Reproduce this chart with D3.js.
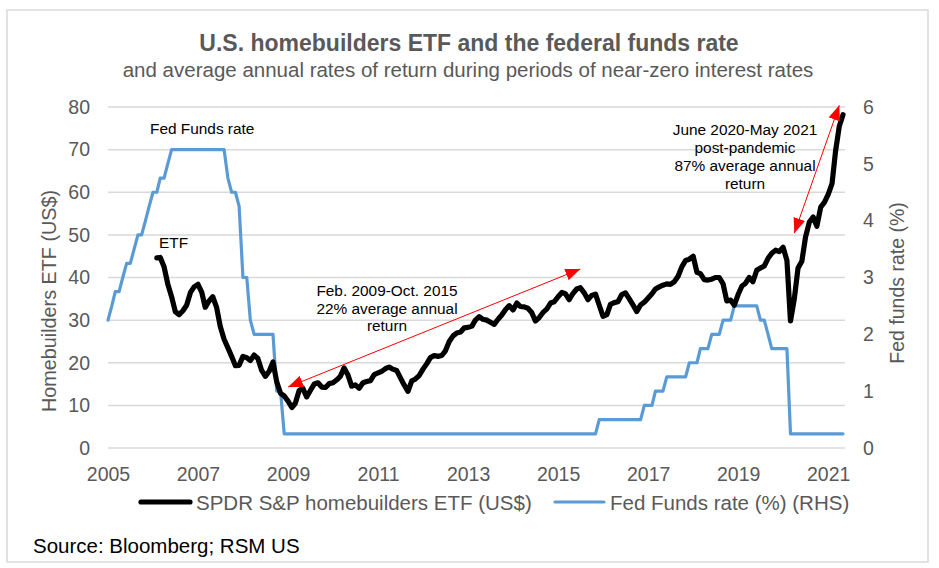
<!DOCTYPE html>
<html>
<head>
<meta charset="utf-8">
<script src="https://cdn.jsdelivr.net/npm/d3@7/dist/d3.min.js"></script>
<style>
  html, body { margin: 0; padding: 0; background: #fff; }
  svg { display: block; font-family: "Liberation Sans", Arial, sans-serif; }
</style>
</head>
<body>
<svg id="chart" width="939" height="568"></svg>
<script>
// ---------- DATA ----------
const titleText = "U.S. homebuilders ETF and the federal funds rate";
const subtitleText = "and average annual rates of return during periods of near-zero interest rates";
const sourceText = "Source: Bloomberg; RSM US";

const xTickYears = [2005, 2007, 2009, 2011, 2013, 2015, 2017, 2019, 2021];
const leftTicks = [0, 10, 20, 30, 40, 50, 60, 70, 80];
const rightTicks = [0, 1, 2, 3, 4, 5, 6];

// Monthly, starting February 2006 (US$)
const etfStart = [2006, 1];
const etfValues = [
  44.6, 44.7, 42.5, 38.5, 35.5, 32.0, 31.3, 32.2, 33.5, 36.5, 37.8,           // 2006 Feb-Dec
  38.4, 36.5, 33.0, 34.5, 35.5, 33.0, 28.5, 25.5, 23.5, 21.5, 19.3, 19.4,     // 2007
  21.5, 21.2, 20.5, 21.8, 21.0, 18.2, 16.8, 18.0, 20.2, 15.5, 12.8, 12.2,     // 2008
  11.0, 9.5, 10.5, 13.5, 14.0, 12.0, 13.5, 15.0, 15.3, 14.3, 14.2, 15.1,      // 2009
  15.3, 16.0, 16.8, 18.8, 17.2, 14.5, 14.8, 14.0, 15.3, 15.6, 15.8, 17.2,     // 2010
  17.6, 18.0, 18.6, 19.0, 18.5, 18.2, 16.5, 14.8, 13.3, 15.7, 16.2, 17.0,     // 2011
  18.5, 19.8, 21.2, 21.7, 21.5, 21.7, 22.8, 25.0, 26.3, 27.0, 27.2, 28.2,     // 2012
  28.3, 28.6, 30.0, 30.8, 30.2, 30.0, 29.5, 29.0, 30.2, 31.2, 32.5, 33.4,     // 2013
  32.4, 34.0, 33.2, 33.1, 32.8, 31.8, 29.8, 30.6, 31.8, 32.6, 34.0, 34.3,     // 2014
  35.5, 36.5, 36.2, 34.8, 36.2, 37.3, 37.6, 36.4, 34.8, 35.8, 36.1, 33.5,     // 2015
  30.9, 31.3, 33.7, 34.1, 34.3, 36.0, 36.4, 35.0, 33.5, 32.0, 33.6, 34.2,     // 2016
  35.2, 36.2, 37.3, 37.8, 38.2, 38.5, 38.4, 39.0, 40.3, 42.5, 44.0, 44.3,     // 2017
  45.0, 41.2, 40.9, 39.5, 39.4, 39.6, 40.0, 40.0, 38.5, 34.5, 34.7, 33.5,     // 2018
  36.0, 38.0, 38.6, 40.0, 39.0, 41.7, 42.2, 42.7, 44.5, 45.7, 46.4, 46.1,     // 2019
  47.1, 44.0, 29.8, 35.0, 42.2, 43.8, 49.5, 53.0, 54.2, 52.0, 56.5, 57.6,     // 2020
  59.5, 62.0, 69.5, 75.5, 78.2                                                // 2021 Jan-May
];

// Monthly upper bound of the fed funds target, starting January 2005 (%)
const fedStart = [2005, 0];
const fedValues = [
  2.25, 2.5, 2.75, 2.75, 3.0, 3.25, 3.25, 3.5, 3.75, 3.75, 4.0, 4.25,         // 2005
  4.5, 4.5, 4.75, 4.75, 5.0, 5.25, 5.25, 5.25, 5.25, 5.25, 5.25, 5.25,        // 2006
  5.25, 5.25, 5.25, 5.25, 5.25, 5.25, 5.25, 5.25, 4.75, 4.5, 4.5, 4.25,       // 2007
  3.0, 3.0, 2.25, 2.0, 2.0, 2.0, 2.0, 2.0, 2.0, 1.0, 1.0, 0.25,               // 2008
  0.25, 0.25, 0.25, 0.25, 0.25, 0.25, 0.25, 0.25, 0.25, 0.25, 0.25, 0.25,     // 2009
  0.25, 0.25, 0.25, 0.25, 0.25, 0.25, 0.25, 0.25, 0.25, 0.25, 0.25, 0.25,     // 2010
  0.25, 0.25, 0.25, 0.25, 0.25, 0.25, 0.25, 0.25, 0.25, 0.25, 0.25, 0.25,     // 2011
  0.25, 0.25, 0.25, 0.25, 0.25, 0.25, 0.25, 0.25, 0.25, 0.25, 0.25, 0.25,     // 2012
  0.25, 0.25, 0.25, 0.25, 0.25, 0.25, 0.25, 0.25, 0.25, 0.25, 0.25, 0.25,     // 2013
  0.25, 0.25, 0.25, 0.25, 0.25, 0.25, 0.25, 0.25, 0.25, 0.25, 0.25, 0.25,     // 2014
  0.25, 0.25, 0.25, 0.25, 0.25, 0.25, 0.25, 0.25, 0.25, 0.25, 0.25, 0.5,      // 2015
  0.5, 0.5, 0.5, 0.5, 0.5, 0.5, 0.5, 0.5, 0.5, 0.5, 0.5, 0.75,                // 2016
  0.75, 0.75, 1.0, 1.0, 1.0, 1.25, 1.25, 1.25, 1.25, 1.25, 1.25, 1.5,         // 2017
  1.5, 1.5, 1.75, 1.75, 1.75, 2.0, 2.0, 2.0, 2.25, 2.25, 2.25, 2.5,           // 2018
  2.5, 2.5, 2.5, 2.5, 2.5, 2.5, 2.25, 2.25, 2.0, 1.75, 1.75, 1.75,            // 2019
  1.75, 1.75, 0.25, 0.25, 0.25, 0.25, 0.25, 0.25, 0.25, 0.25, 0.25, 0.25,     // 2020
  0.25, 0.25, 0.25, 0.25, 0.25                                                // 2021 Jan-May
];

const seriesNames = ["SPDR S&P homebuilders ETF (US$)", "Fed Funds rate (%) (RHS)"];

// Annotations (date as [year, month], value on ETF axis)
const arrow1 = { from: [2009, 0, 14.3], to: [2015, 6, 42.0] };
const arrow2 = { from: [2020, 3, 50.4], to: [2021, 3, 80.4] };
const note1Lines = ["Feb. 2009-Oct. 2015", "22% average annual", "return"];
const note2Lines = ["June 2020-May 2021", "post-pandemic", "87% average annual", "return"];

// ---------- CHART ----------
const svg = d3.select("#chart");
const plot = { left: 108, right: 845, top: 107, bottom: 448 };
const gray = "#595959";
const blue = "#5B9BD5";
const FONT = "Liberation Sans, Arial, sans-serif";

const toDate = (y, m) => new Date(y, m, 1);
const etfData = etfValues.map((v, i) => ({ date: d3.timeMonth.offset(toDate(...etfStart), i), v }));
const fedData = fedValues.map((v, i) => ({ date: d3.timeMonth.offset(toDate(...fedStart), i), v }));

const x = d3.scaleTime()
  .domain([toDate(2005, 0), toDate(2021, 4)])
  .range([plot.left, 843]);
const yL = d3.scaleLinear().domain([0, 80]).range([plot.bottom, plot.top]);
const yR = d3.scaleLinear().domain([0, 6]).range([plot.bottom, plot.top]);

// border
svg.append("rect")
  .attr("x", 7).attr("y", 10).attr("width", 921).attr("height", 552)
  .attr("fill", "#fff").attr("stroke", "#d9d9d9").attr("stroke-width", 1.5);

// title
svg.append("text").attr("x", 469).attr("y", 51).attr("text-anchor", "middle")
  .attr("font-size", 23).attr("font-weight", "bold").attr("fill", gray).text(titleText);
svg.append("text").attr("x", 468).attr("y", 77).attr("text-anchor", "middle")
  .attr("font-size", 20.5).attr("fill", gray).text(subtitleText);

// gridlines
svg.append("g").selectAll("line").data(leftTicks).join("line")
  .attr("x1", plot.left).attr("x2", plot.right)
  .attr("y1", d => yL(d)).attr("y2", d => yL(d))
  .attr("stroke", "#d9d9d9").attr("stroke-width", 1.5);

// left axis
const gL = svg.append("g").attr("transform", `translate(${plot.left - 18},0)`)
  .call(d3.axisLeft(yL).tickValues(leftTicks).tickSize(0).tickPadding(0));
gL.select(".domain").remove();
gL.selectAll("text").attr("font-size", 19.5).attr("fill", gray).attr("font-family", FONT);

// right axis
const gR = svg.append("g").attr("transform", `translate(${plot.right + 18},0)`)
  .call(d3.axisRight(yR).tickValues(rightTicks).tickFormat(d3.format("d")).tickSize(0).tickPadding(0));
gR.select(".domain").remove();
gR.selectAll("text").attr("font-size", 19.5).attr("fill", gray).attr("font-family", FONT);

// x axis
const gX = svg.append("g").attr("transform", `translate(0,${plot.bottom + 19})`)
  .call(d3.axisBottom(x).tickValues(xTickYears.map(y => toDate(y, 0)))
    .tickFormat(d3.timeFormat("%Y")).tickSize(0).tickPadding(0));
gX.select(".domain").remove();
gX.selectAll("text").attr("font-size", 19.5).attr("fill", gray).attr("font-family", FONT);

// axis titles
svg.append("text").attr("transform", "translate(56,301) rotate(-90)")
  .attr("text-anchor", "middle").attr("font-size", 19.8).attr("fill", gray)
  .text("Homebuilders ETF (US$)");
svg.append("text").attr("transform", "translate(904,283) rotate(-90)")
  .attr("text-anchor", "middle").attr("font-size", 19.5).attr("fill", gray)
  .text("Fed funds rate (%)");

// lines
const fedLine = d3.line().x(d => x(d.date)).y(d => yR(d.v));
const etfLine = d3.line().x(d => x(d.date)).y(d => yL(d.v));

svg.append("path").datum(fedData).attr("d", fedLine)
  .attr("fill", "none").attr("stroke", blue).attr("stroke-width", 3.2)
  .attr("stroke-linejoin", "round").attr("stroke-linecap", "round");
svg.append("path").datum(etfData).attr("d", etfLine)
  .attr("fill", "none").attr("stroke", "#000").attr("stroke-width", 5.2)
  .attr("stroke-linejoin", "round").attr("stroke-linecap", "round");

// arrows
const defs = svg.append("defs");
defs.append("marker").attr("id", "ah").attr("viewBox", "0 0 15 12")
  .attr("refX", 15).attr("refY", 6).attr("markerWidth", 15).attr("markerHeight", 12)
  .attr("markerUnits", "userSpaceOnUse").attr("orient", "auto-start-reverse")
  .append("path").attr("d", "M0,0 L15,6 L0,12 Z").attr("fill", "#ff0000");

function drawArrow(a) {
  svg.append("line")
    .attr("x1", x(toDate(a.from[0], a.from[1]))).attr("y1", yL(a.from[2]))
    .attr("x2", x(toDate(a.to[0], a.to[1]))).attr("y2", yL(a.to[2]))
    .attr("stroke", "#ff0000").attr("stroke-width", 1)
    .attr("marker-start", "url(#ah)").attr("marker-end", "url(#ah)");
}
drawArrow(arrow1);
drawArrow(arrow2);

// annotation text
svg.append("text").attr("x", 150).attr("y", 134).attr("font-size", 15.4).attr("fill", "#000")
  .text("Fed Funds rate");
svg.append("text").attr("x", 159).attr("y", 248).attr("font-size", 15.4).attr("fill", "#000")
  .text("ETF");

svg.append("text").attr("text-anchor", "middle").attr("font-size", 15.4).attr("fill", "#000")
  .selectAll("tspan").data(note1Lines).join("tspan")
  .attr("x", 387).attr("y", (d, i) => 296 + i * 17.5).text(d => d);
svg.append("text").attr("text-anchor", "middle").attr("font-size", 15.4).attr("fill", "#000")
  .selectAll("tspan").data(note2Lines).join("tspan")
  .attr("x", 745).attr("y", (d, i) => 135 + i * 18).text(d => d);

// legend
const lg = svg.append("g");
lg.append("line").attr("x1", 141).attr("x2", 190).attr("y1", 502).attr("y2", 502)
  .attr("stroke", "#000").attr("stroke-width", 5.2).attr("stroke-linecap", "round");
lg.append("text").attr("x", 196).attr("y", 510).attr("font-size", 20.5).attr("fill", gray)
  .text(seriesNames[0]);
lg.append("line").attr("x1", 555).attr("x2", 604).attr("y1", 502).attr("y2", 502)
  .attr("stroke", blue).attr("stroke-width", 3.2).attr("stroke-linecap", "round");
lg.append("text").attr("x", 610).attr("y", 510).attr("font-size", 20.5).attr("fill", gray)
  .text(seriesNames[1]);

// source
svg.append("text").attr("x", 33).attr("y", 553).attr("font-size", 20.5).attr("fill", "#000")
  .text(sourceText);
</script>
</body>
</html>
